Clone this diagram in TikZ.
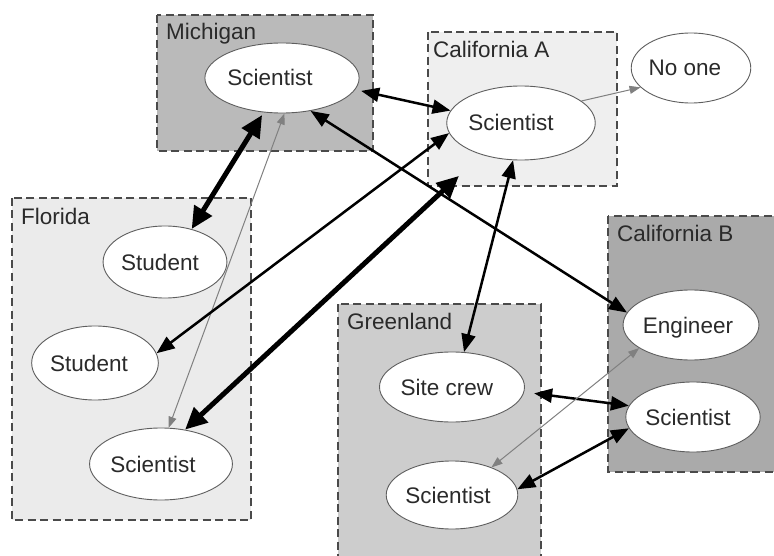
\documentclass[tikz,border=0pt]{standalone}
\usepackage{fontspec}
\setmainfont{Liberation Sans}
\usetikzlibrary{shapes.geometric,arrows.meta}

\definecolor{txt}{HTML}{2A2A2A}
\definecolor{boxline}{HTML}{4A4A4A}
\definecolor{ring}{HTML}{5E5E5E}
\definecolor{faintgray}{HTML}{808080}
\definecolor{fillMI}{HTML}{BABABA}
\definecolor{fillCA}{HTML}{EFEFEF}
\definecolor{fillFL}{HTML}{EBEBEB}
\definecolor{fillGR}{HTML}{CDCDCD}
\definecolor{fillCB}{HTML}{AAAAAA}

\tikzset{
  region/.style={draw=boxline, line width=1.7pt, dash pattern=on 8pt off 4.5pt},
  regionlabel/.style={anchor=base west, inner sep=0pt, text=txt,
    font=\fontsize{22.5}{27}\selectfont},
  person/.style={ellipse, draw=ring, fill=white, line width=0.9pt, inner sep=0pt,
    text=txt, font=\fontsize{22.5}{27}\selectfont, text height=16pt, text depth=0pt},
  link/.style={draw=black, line width=2.5pt,
    {Triangle[length=18pt,width=14pt]}-{Triangle[length=18pt,width=14pt]}},
  heavy/.style={draw=black, line width=5pt,
    {Triangle[length=22pt,width=20pt]}-{Triangle[length=22pt,width=20pt]}},
  faint/.style={draw=faintgray, line width=1pt,
    {Triangle[length=11pt,width=8pt]}-{Triangle[length=11pt,width=8pt]}},
  faintone/.style={draw=faintgray, line width=1pt,
    -{Triangle[length=11pt,width=8pt]}},
}

\begin{document}
\begin{tikzpicture}[x=1pt,y=-1pt]
\useasboundingbox (0,0) rectangle (774,556);

% sites
\path[region, fill=fillMI] (157,15) rectangle (373,151);
\path[region, fill=fillCA] (428,32) rectangle (617,186);
\path[region, fill=fillFL] (12,198) rectangle (251,520);
\path[region, fill=fillGR] (338,304) rectangle (541,575);
\path[region, fill=fillCB] (608,216) rectangle (790,472);

\node[regionlabel] (lmi) at (166,40) {Michigan};
\node[regionlabel] (lca) at (433,58) {California A};
\node[regionlabel] (lfl) at (21,225) {Florida};
\node[regionlabel] (lgr) at (347,329) {Greenland};
\node[regionlabel] (lcb) at (617,242) {California B};

% people
\node[person, minimum width=128pt, minimum height=70pt] (mi) at (282,78) {Scientist\hspace*{24pt}};
\node[person, minimum width=116pt, minimum height=74pt] (ca) at (521,123) {Scientist\hspace*{20pt}};
\node[person, minimum width=118pt, minimum height=70pt] (no) at (691,68) {No one\hspace*{12pt}};
\node[person, minimum width=116pt, minimum height=72pt] (s1) at (165,262) {Student\hspace*{10pt}};
\node[person, minimum width=120pt, minimum height=74pt] (s2) at (95,363) {Student\hspace*{12pt}};
\node[person, minimum width=136pt, minimum height=72pt] (fs) at (161,464) {Scientist\hspace*{16pt}};
\node[person, minimum width=116pt, minimum height=70pt] (sc) at (452,387) {Site crew\hspace*{10pt}};
\node[person, minimum width=116pt, minimum height=68pt] (gs) at (452,495) {Scientist\hspace*{8pt}};
\node[person, minimum width=114pt, minimum height=70pt] (en) at (691,325) {Engineer\hspace*{6pt}};
\node[person, minimum width=112pt, minimum height=70pt] (cs) at (693,417) {Scientist\hspace*{10pt}};

% contacts
\draw[link, shorten <=6pt] (mi.-9) -- (ca.170);
\draw[heavy, shorten <=3pt] (mi.-118) -- (s1.51);
\draw[faint] (mi.-86) -- (fs.78);
\draw[link] (mi.-49) -- (en.169);
\draw[link] (ca.188) -- (s2.9);
\draw[heavy, shorten <=31pt] (ca.-141) -- (fs.55);
\draw[link] (ca.-102) -- (sc.71);
\draw[faintone] (ca.20) -- (no.201);
\draw[link, shorten <=10pt] (sc.-4) -- (cs.170);
\draw[link] (gs.5) -- (cs.190);
\draw[faint] (en.204) -- (gs.35);
\end{tikzpicture}
\end{document}
